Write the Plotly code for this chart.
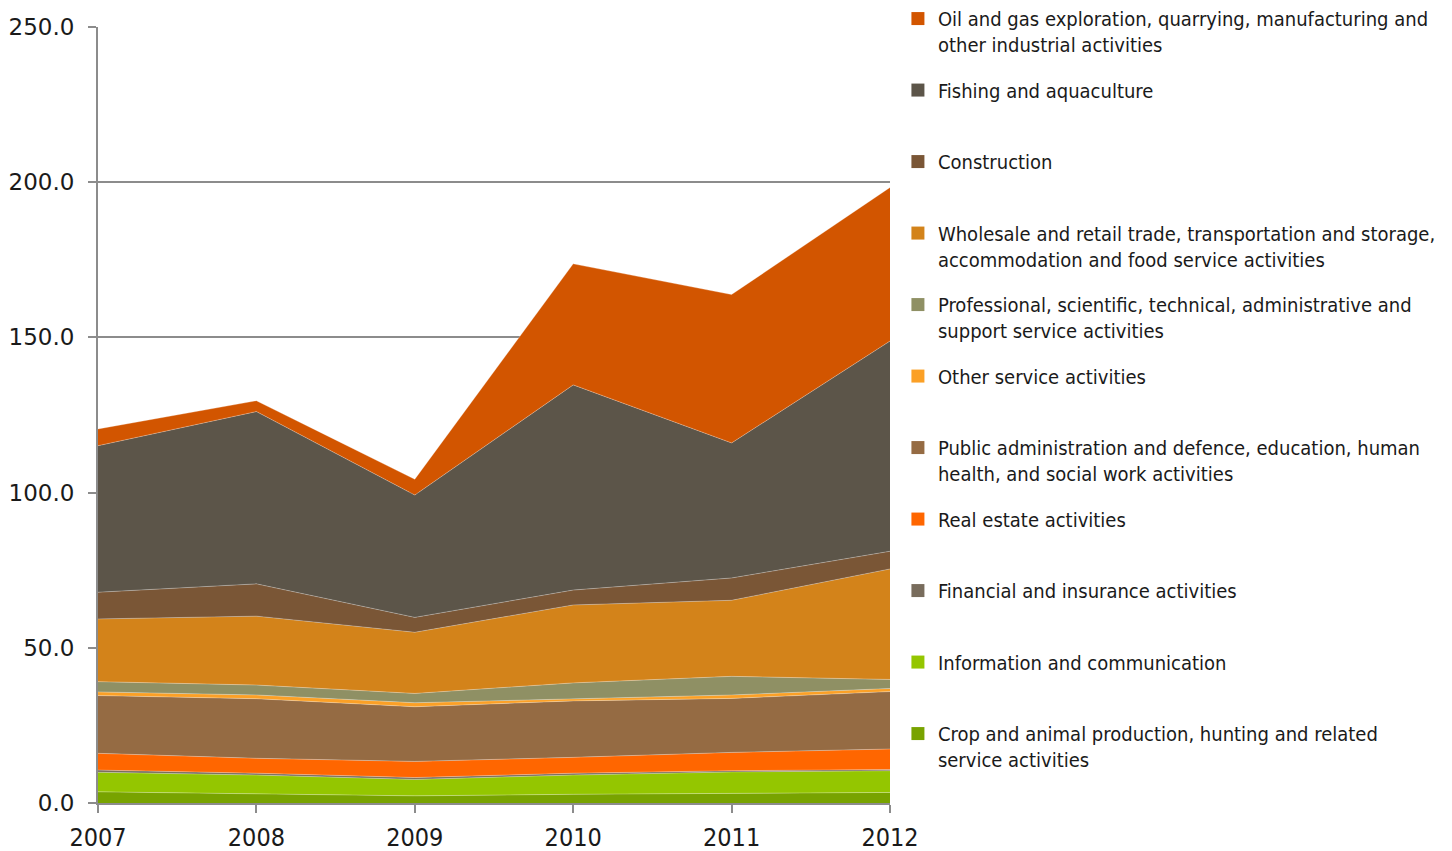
import plotly.graph_objects as go

years = [2007, 2008, 2009, 2010, 2011, 2012]

# Series values (stacked bottom -> top)
crop = [3.6, 2.9, 2.3, 2.8, 3.1, 3.4]
info = [6.3, 6.1, 5.3, 6.2, 6.9, 7.0]
financial = [0.7, 0.6, 0.6, 0.6, 0.4, 0.4]
real_estate = [5.4, 4.8, 5.2, 5.1, 5.9, 6.6]
public_admin = [18.6, 19.2, 17.6, 18.2, 17.4, 18.5]
other_service = [1.2, 1.2, 1.3, 0.6, 1.1, 1.0]
professional = [3.3, 3.2, 3.0, 5.2, 6.0, 2.9]
wholesale = [20.2, 22.2, 19.7, 25.1, 24.5, 35.6]
construction = [8.6, 10.4, 4.8, 4.8, 7.2, 5.7]
fishing = [47.2, 55.5, 39.4, 66.1, 43.5, 67.7]
oil_gas = [5.4, 3.5, 5.1, 39.0, 47.8, 49.5]

series_names = [
    "Crop and animal production, hunting and related<br>service activities",
    "Information and communication",
    "Financial and insurance activities",
    "Real estate activities",
    "Public administration and defence, education, human<br>health, and social work activities",
    "Other service activities",
    "Professional, scientific, technical, administrative and<br>support service activities",
    "Wholesale and retail trade, transportation and storage,<br>accommodation and food service activities",
    "Construction",
    "Fishing and aquaculture",
    "Oil and gas exploration, quarrying, manufacturing and<br>other industrial activities",
]
series_values = [crop, info, financial, real_estate, public_admin, other_service,
                 professional, wholesale, construction, fishing, oil_gas]
colors = ["#78A300", "#94C600", "#786C5C", "#FF6600", "#956B43", "#FBA026",
          "#8F9064", "#D3831A", "#7A5636", "#5C5549", "#D25500"]

y_ticks = [0, 50, 100, 150, 200, 250]

fig = go.Figure()

# Legend entries (top -> bottom), square swatches
n = len(series_names)
for i in reversed(range(n)):
    name = series_names[i]
    label = name if "<br>" in name else name + "<br> "
    fig.add_trace(go.Scatter(
        x=[None], y=[None], mode="markers",
        marker=dict(symbol="square", size=13, color=colors[i]),
        name=label, legendgroup=f"g{i}", showlegend=True,
    ))

# Stacked areas (bottom -> top)
for i, (name, vals, col) in enumerate(zip(series_names, series_values, colors)):
    fig.add_trace(go.Scatter(
        x=years, y=vals, mode="lines", stackgroup="one",
        line=dict(width=0.8, color="rgba(255,255,255,0.35)"),
        fillcolor=col, name=name.replace("<br>", " "),
        legendgroup=f"g{i}", showlegend=False, hoverinfo="x+y+name",
    ))

fig.update_layout(
    width=1444, height=843,
    margin=dict(l=90, r=562, t=19, b=48, autoexpand=False),
    paper_bgcolor="white", plot_bgcolor="white",
    showlegend=True,
    legend=dict(
        x=1.010, xanchor="left", y=1.036, yanchor="top",
        traceorder="grouped", tracegroupgap=16.5,
        valign="top", maxheight=843,
        font=dict(family="Liberation Sans Narrow, DejaVu Sans Condensed, Arial Narrow, sans-serif",
                  size=20, color="#1a1a1a"),
        bgcolor="rgba(0,0,0,0)",
    ),
    xaxis=dict(
        range=[2007, 2012], tickvals=years, ticktext=[str(y) for y in years],
        showgrid=False, zeroline=False,
        showline=True, linecolor="#8c8c8c", linewidth=2,
        ticks="outside", ticklen=8, tickcolor="#8c8c8c", tickwidth=2,
        ticklabelstandoff=3,
        tickfont=dict(family="DejaVu Sans Condensed, DejaVu Sans, sans-serif", size=25, color="#1a1a1a"),
    ),
    yaxis=dict(
        range=[0, 250], tickvals=y_ticks, tickformat=".1f",
        showgrid=True, gridcolor="#8c8c8c", gridwidth=1.5,
        zeroline=False,
        showline=True, linecolor="#8c8c8c", linewidth=2,
        ticks="outside", ticklen=8, tickcolor="#8c8c8c", tickwidth=2,
        ticklabelstandoff=9,
        tickfont=dict(family="DejaVu Sans, sans-serif", size=23, color="#1a1a1a"),
    ),
)

fig.write_html("out.html")
